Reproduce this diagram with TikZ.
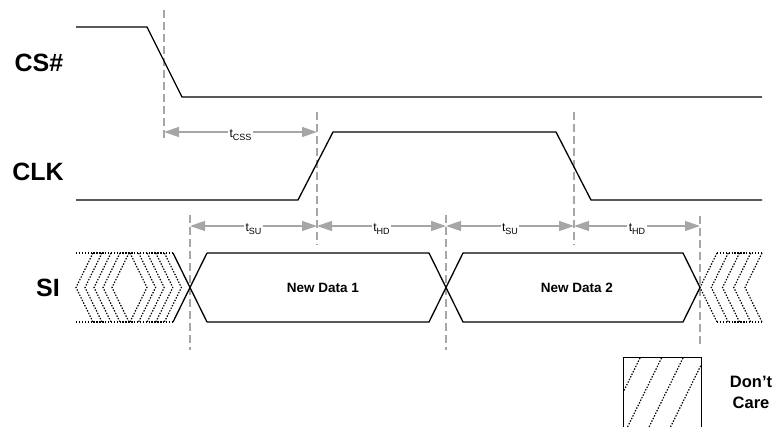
\documentclass[tikz,border=0pt]{standalone}
\usepackage{fontspec}
\setmainfont{Liberation Sans}
\usetikzlibrary{arrows.meta}
\definecolor{tgray}{HTML}{A6A6A6}
\newcommand{\tsub}[1]{t\raisebox{-3pt}{\fontsize{9}{10}\selectfont #1}}
\begin{document}
\begin{tikzpicture}[x=1pt,y=-1pt,
  sig/.style={line width=1.3pt, black, line join=miter},
  dc/.style={line width=1.2pt, black, dash pattern=on 1.4pt off 1.5pt},
  guide/.style={tgray, line width=1.3pt, dash pattern=on 8pt off 4pt},
  meas/.style={tgray, line width=1.3pt, {Triangle[length=15pt,width=10pt]}-{Triangle[length=15pt,width=10pt]}},
  tlab/.style={fill=white, inner sep=1.5pt, anchor=base, font=\fontsize{12}{13}\selectfont},
  siglab/.style={font=\bfseries\fontsize{25}{27}\selectfont, inner sep=0pt},
  datalab/.style={font=\bfseries\fontsize{13.5}{15}\selectfont, inner sep=0pt},
]
\path[use as bounding box] (0,0) rectangle (779,427);
\clip (0,0) rectangle (779,427);

% signal names
\node[siglab] (lcs) at (39,63) {CS\#};
\node[siglab] (lclk) at (38,172) {CLK};
\node[siglab] (lsi) at (48,288) {SI};

% guide lines (coordinates)
\coordinate (ga1) at (164,10);  \coordinate (ga2) at (164,140);
\coordinate (gb1) at (317,112); \coordinate (gb2) at (317,245);
\coordinate (gc1) at (574,112); \coordinate (gc2) at (574,245);
\coordinate (gd1) at (190,215); \coordinate (gd2) at (190,350);
\coordinate (ge1) at (446,215); \coordinate (ge2) at (446,350);
\coordinate (gf1) at (700,216); \coordinate (gf2) at (700,346);
\draw[guide] (ga1) -- (ga2);
\draw[guide] (gb1) -- (gb2);
\draw[guide] (gc1) -- (gc2);
\draw[guide] (gd1) -- (gd2);
\draw[guide] (ge1) -- (ge2);
\draw[guide] (gf1) -- (gf2);

% measurement arrows
\coordinate (mA) at (164,132); \coordinate (mB) at (317,132);
\coordinate (m1) at (190,226); \coordinate (m2) at (317,226);
\coordinate (m3) at (446,226); \coordinate (m4) at (574,226);
\coordinate (m5) at (700,226);
\draw[meas] (mA) -- (mB);
\draw[meas] (m1) -- (m2);
\draw[meas] (m2) -- (m3);
\draw[meas] (m3) -- (m4);
\draw[meas] (m4) -- (m5);
\node[tlab] (tcss) at (240.5,138) {\tsub{CSS}};
\node[tlab] (tsu1) at (253.5,232) {\tsub{SU}};
\node[tlab] (thd1) at (381.5,232) {\tsub{HD}};
\node[tlab] (tsu2) at (510,232) {\tsub{SU}};
\node[tlab] (thd2) at (637,232) {\tsub{HD}};

% CS# and CLK waveforms
\draw[sig] (76,27) -- (147,27) -- (182,97) -- (762,97);
\draw[sig] (76,200) -- (298,200) -- (333,132) -- (556,132) -- (591,200) -- (762,200);

% SI don't-care (left)
\draw[dc] (76,253) -- (173,253);
\draw[dc] (76,322) -- (173,322);
\foreach \v in {76,85,94,103,112}
  \draw[dc] (\v+17,253) -- (\v,287.5) -- (\v+17,322);
\foreach \w in {147,155.6,164.2,172.8,181.4}
  \draw[dc] (\w-17,253) -- (\w,287.5) -- (\w-17,322);

% SI don't-care (right)
\draw[dc] (717,253) -- (762,253);
\draw[dc] (717,322) -- (762,322);
\foreach \v in {700,711.25,722.5,733.75,745}
  \draw[dc] (\v+17,253) -- (\v,287.5) -- (\v+17,322);

% SI data bus
\draw[sig] (173,253) -- (207,322);
\draw[sig] (173,322) -- (207,253);
\draw[sig] (207,253) -- (429,253) -- (463,322) -- (683,322) -- (700,287.5)
  -- (683,253) -- (463,253) -- (429,322) -- (207,322);
\node[datalab] (nd1) at (323,288) {New Data 1};
\node[datalab] (nd2) at (577,288) {New Data 2};

% legend
\draw[black, line width=1pt] (623,358) rectangle (701,440);
\begin{scope}
  \clip (623,358) rectangle (701,440);
  \foreach \t in {640,661.5,683,704.5}
    \draw[dc] (\t,358) -- ++(-46,93.4);
\end{scope}
\node[font=\bfseries\fontsize{16.5}{21}\selectfont, align=center, inner sep=0pt] (dcare) at (751,392) {Don’t\\Care};
\end{tikzpicture}
\end{document}
